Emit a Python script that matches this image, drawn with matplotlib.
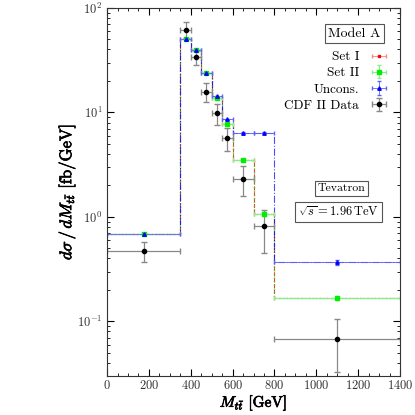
import matplotlib
matplotlib.use('Agg')
import matplotlib.pyplot as plt
import matplotlib.patheffects as pe
from matplotlib.ticker import MultipleLocator, LogLocator, NullFormatter
import numpy as np

# bin edges in M_tt [GeV]
edges = [0, 350, 400, 450, 500, 550, 600, 700, 800, 1400]

# predictions per bin [fb/GeV]
set1 = [0.68, 50.8, 39.5, 23.7, 13.6, 7.7, 3.5, 1.06, 0.166]
set2 = [0.68, 50.8, 39.5, 23.7, 13.6, 7.7, 3.5, 1.06, 0.166]
set2_err = [0.01, 0.5, 0.4, 0.3, 0.2, 0.1, 0.05, 0.03, 0.007]
uncons = [0.68, 50.8, 39.5, 23.7, 14.3, 8.6, 6.4, 6.4, 0.37]
uncons_err = [0.01, 0.5, 0.4, 0.3, 0.2, 0.1, 0.08, 0.08, 0.02]

# CDF II measurement
cdf_x = [175, 375, 425, 475, 525, 575, 650, 750, 1100]
cdf_y = [0.47, 61.8, 33.6, 15.7, 9.9, 5.7, 2.32, 0.81, 0.068]
cdf_lo = [0.37, 52.0, 28.7, 12.6, 7.5, 4.3, 1.58, 0.45, 0.033]
cdf_hi = [0.58, 72.5, 38.3, 19.0, 12.0, 7.1, 3.04, 1.16, 0.105]

plt.rcParams['font.family'] = 'serif'
plt.rcParams['font.serif'] = ['cmr10', 'DejaVu Serif']
plt.rcParams['mathtext.fontset'] = 'cm'
plt.rcParams['axes.formatter.use_mathtext'] = True

edges = np.array(edges)
centers = 0.5 * (edges[1:] + edges[:-1])
halfw = 0.5 * (edges[1:] - edges[:-1])

fig = plt.figure(figsize=(4.15, 4.15), dpi=100)
ax = fig.add_axes([0.258, 0.094, 0.706, 0.887])

# histogram steps
ax.stairs(set1, edges, baseline=None, color='red', linestyle='--', linewidth=0.8, alpha=0.8)
ax.stairs(set2, edges, baseline=None, color='#22dd22', linestyle=':', linewidth=1.0, alpha=0.8)
ax.stairs(uncons, edges, baseline=None, color='blue', linestyle='-.', linewidth=0.8, alpha=0.7)

# bin-centre markers
ax.errorbar(centers, set1, xerr=halfw, fmt='s', ms=2, color='red', ecolor='#ff8080',
            elinewidth=0.6, capsize=1.5, label='Set I')
ax.errorbar(centers, set2, xerr=halfw, yerr=set2_err, fmt='s', ms=3.5, color='#00ee00',
            ecolor='#88ee88', elinewidth=0.8, capsize=1.5, label='Set II')
ax.errorbar(centers, uncons, xerr=halfw, yerr=uncons_err, fmt='^', ms=2.5, color='blue',
            ecolor='#6060ff', elinewidth=0.6, capsize=1.5, label='Uncons.')

cdf_y = np.array(cdf_y)
yerr = [cdf_y - np.array(cdf_lo), np.array(cdf_hi) - cdf_y]
ax.errorbar(cdf_x, cdf_y, xerr=halfw, yerr=yerr, fmt='o', ms=3, color='black',
            ecolor='#888888', elinewidth=0.9, capsize=2, label='CDF II Data')

ax.set_xlim(0, 1400)
ax.set_yscale('log')
ax.set_ylim(0.03, 100)

ax.xaxis.set_major_locator(MultipleLocator(200))
ax.xaxis.set_minor_locator(MultipleLocator(50))
ax.yaxis.set_minor_locator(LogLocator(base=10, subs=np.arange(2, 10)))
ax.yaxis.set_minor_formatter(NullFormatter())
ax.tick_params(which='both', direction='in', top=True, right=True, labelsize=9,
               labelcolor='#333333')
ax.tick_params(axis='x', pad=2.5)
ax.tick_params(which='major', length=5)
ax.tick_params(which='minor', length=2.5)

bold = [pe.withStroke(linewidth=0.5, foreground='black')]
ax.set_xlabel(r'$M_{t\bar{t}}$ [GeV]', fontsize=11, path_effects=bold)
ax.xaxis.set_label_coords(0.5, -0.046)
ax.set_ylabel(r'$d\sigma\,/\,dM_{t\bar{t}}$ [fb/GeV]', fontsize=12, labelpad=-1,
              path_effects=bold)

leg = ax.legend(loc='upper right', bbox_to_anchor=(1.0, 0.915), frameon=False,
                markerfirst=False, fontsize=9.5, handlelength=1.4, labelspacing=0.3,
                borderaxespad=0.5)

ax.text(0.845, 0.93, 'Model A', transform=ax.transAxes, ha='center', va='center',
        fontsize=10, bbox=dict(boxstyle='square,pad=0.25', fc='white', ec='#555555', lw=0.8))
ax.text(0.80, 0.51, 'Tevatron', transform=ax.transAxes, ha='center', va='center',
        fontsize=8.5, bbox=dict(boxstyle='square,pad=0.25', fc='white', ec='#555555', lw=0.8))
ax.text(0.79, 0.446, r'$\sqrt{s} = 1.96\,\mathrm{TeV}$', transform=ax.transAxes,
        ha='center', va='center', fontsize=9,
        bbox=dict(boxstyle='square,pad=0.25', fc='white', ec='#555555', lw=0.8))

for s in ax.spines.values():
    s.set_color('#333333')

fig.savefig('out.png', dpi=100)
